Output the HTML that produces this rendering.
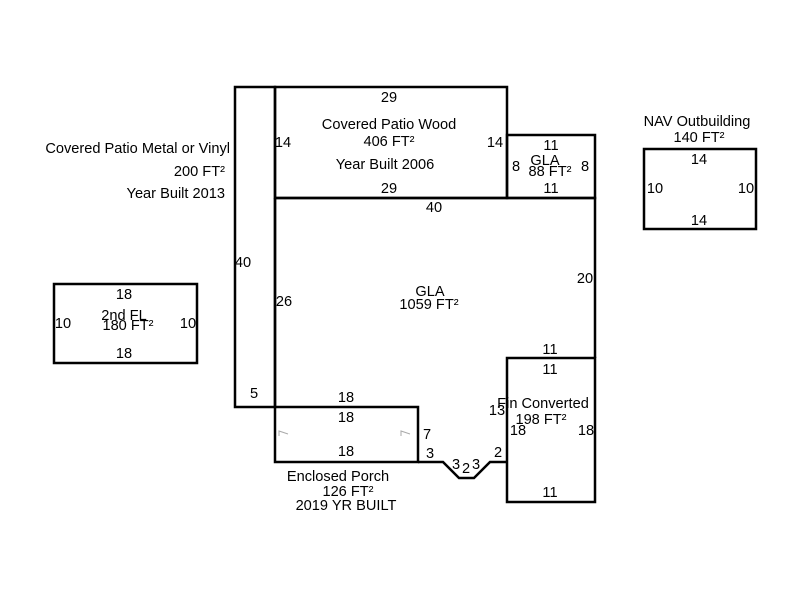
<!DOCTYPE html>
<html><head><meta charset="utf-8"><style>
html,body{margin:0;padding:0;background:#fff;width:800px;height:600px;overflow:hidden}
svg text{font-family:"Liberation Sans",Arial,sans-serif;font-size:14.6px;fill:#000}
</style></head><body>
<svg width="800" height="600" viewBox="0 0 800 600" xmlns="http://www.w3.org/2000/svg">
<g fill="none" stroke="#000" stroke-width="2.5">
<rect x="235" y="87" width="40" height="320"/>
<rect x="275" y="87" width="232" height="111"/>
<rect x="507" y="135" width="88" height="63"/>
<polyline points="275,198 595,198 595,358"/>
<line x1="275" y1="198" x2="275" y2="407"/>
<rect x="507" y="358" width="88" height="144"/>
<rect x="275" y="407" width="143" height="55"/>
<polyline points="418,462 443,462 459,478 474,478 490,462 507,462"/>
<rect x="54" y="284" width="143" height="79"/>
<rect x="644" y="149" width="112" height="80"/>
</g>
<g stroke="#aaa" stroke-width="1" fill="none">
<polyline points="279,436 279,431 288,434"/>
<polyline points="401,436 401,431 410,434"/>
</g>
<g text-anchor="middle">
<text x="389" y="102">29</text>
<text x="389" y="129">Covered Patio Wood</text>
<text x="389" y="146">406 FT²</text>
<text x="385" y="169">Year Built 2006</text>
<text x="389" y="193">29</text>
<text x="283" y="147">14</text>
<text x="495" y="147">14</text>
<text x="551" y="150">11</text>
<text x="545" y="165">GLA</text>
<text x="550" y="176">88 FT²</text>
<text x="516" y="171">8</text>
<text x="585" y="171">8</text>
<text x="551" y="193">11</text>
<text x="434" y="212">40</text>
<text x="430" y="296">GLA</text>
<text x="429" y="309">1059 FT²</text>
<text x="284" y="306">26</text>
<text x="585" y="283">20</text>
<text x="243" y="267">40</text>
<text x="550" y="354">11</text>
<text x="550" y="374">11</text>
<text x="543" y="408">Fin Converted</text>
<text x="541" y="424">198 FT²</text>
<text x="518" y="435">18</text>
<text x="586" y="435">18</text>
<text x="497" y="415">13</text>
<text x="550" y="497">11</text>
<text x="254" y="398">5</text>
<text x="346" y="402">18</text>
<text x="346" y="422">18</text>
<text x="346" y="456">18</text>
<text x="427" y="439">7</text>
<text x="430" y="458">3</text>
<text x="456" y="469">3</text>
<text x="466" y="473">2</text>
<text x="476" y="469">3</text>
<text x="498" y="457">2</text>
<text x="338" y="481">Enclosed Porch</text>
<text x="348" y="496">126 FT²</text>
<text x="346" y="510">2019 YR BUILT</text>
<text x="124" y="299">18</text>
<text x="124" y="320">2nd FL</text>
<text x="128" y="330">180 FT²</text>
<text x="63" y="328">10</text>
<text x="188" y="328">10</text>
<text x="124" y="358">18</text>
<text x="697" y="126">NAV Outbuilding</text>
<text x="699" y="142">140 FT²</text>
<text x="699" y="164">14</text>
<text x="655" y="193">10</text>
<text x="746" y="193">10</text>
<text x="699" y="225">14</text>
</g>
<g text-anchor="end">
<text x="230" y="153">Covered Patio Metal or Vinyl</text>
<text x="225" y="176">200 FT²</text>
<text x="225" y="198">Year Built 2013</text>
</g>
</svg>
</body></html>
